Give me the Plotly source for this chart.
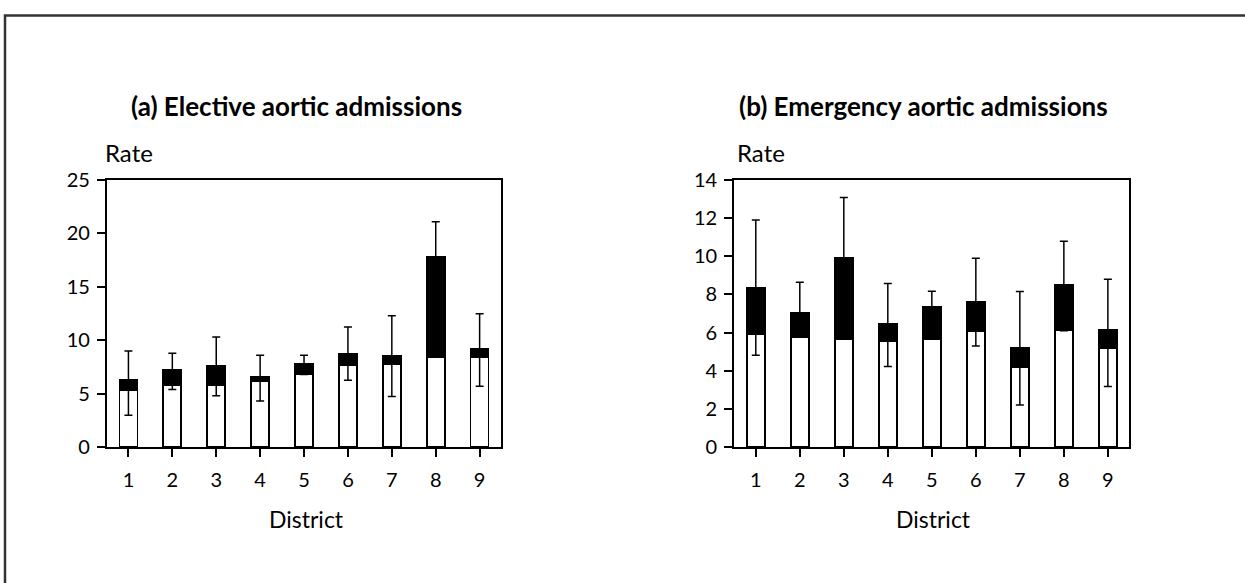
import plotly.graph_objects as go

W, H = 1245, 583

districts = [1, 2, 3, 4, 5, 6, 7, 8, 9]
district_labels = ["1", "2", "3", "4", "5", "6", "7", "8", "9"]

# (a) Elective aortic admissions
elective_lower_part = [5.34, 5.81, 5.81, 6.15, 6.86, 7.64, 7.76, 8.42, 8.45]
elective_total = [6.27, 7.20, 7.64, 6.58, 7.80, 8.70, 8.54, 17.76, 9.19]
elective_ci_low = [2.98, 5.40, 4.81, 4.32, 6.80, 6.27, 4.75, 14.0, 5.71]
elective_ci_high = [9.00, 8.79, 10.31, 8.60, 8.60, 11.24, 12.30, 21.09, 12.48]

# (b) Emergency aortic admissions
emergency_lower_part = [5.90, 5.76, 5.65, 5.55, 5.65, 6.09, 4.21, 6.12, 5.18]
emergency_total = [8.35, 7.03, 9.91, 6.47, 7.34, 7.62, 5.20, 8.49, 6.12]
emergency_ci_low = [4.82, 6.20, 7.50, 4.23, 6.50, 5.30, 2.21, 6.10, 3.18]
emergency_ci_high = [11.90, 8.64, 13.08, 8.57, 8.17, 9.90, 8.16, 10.78, 8.80]

y_ticks_a = [0, 5, 10, 15, 20, 25]
y_ticks_b = [0, 2, 4, 6, 8, 10, 12, 14]

FONT = "Lato"
fig = go.Figure()


def px_x(v):
    return v / W


def px_y(v):
    # vertical placement in page pixels (compensated for the observed render offset)
    v = (v - 11.5) / 0.9624
    return 1 - v / H


def add_panel(lower, total, lo, hi, xa, ya):
    upper_seg = [t - l for t, l in zip(total, lower)]
    fig.add_trace(go.Bar(x=districts, y=lower, width=0.41,
                         marker=dict(color="white", line=dict(color="black", width=1.7)),
                         xaxis=xa, yaxis=ya, showlegend=False, hoverinfo="skip"))
    fig.add_trace(go.Bar(x=districts, y=upper_seg, width=0.41,
                         marker=dict(color="black", line=dict(color="black", width=1.7)),
                         xaxis=xa, yaxis=ya, showlegend=False, hoverinfo="skip"))
    fig.add_trace(go.Scatter(x=districts, y=total, mode="markers",
                             marker=dict(size=1, color="rgba(0,0,0,0)"),
                             error_y=dict(type="data", symmetric=False,
                                          array=[h - t for h, t in zip(hi, total)],
                                          arrayminus=[t - l for t, l in zip(total, lo)],
                                          color="black", thickness=1.5, width=4),
                             xaxis=xa, yaxis=ya, showlegend=False, hoverinfo="skip"))


add_panel(elective_lower_part, elective_total, elective_ci_low, elective_ci_high, "x", "y")
add_panel(emergency_lower_part, emergency_total, emergency_ci_low, emergency_ci_high, "x2", "y2")

ydom = [px_y(447.3), px_y(179)]
common_x = dict(range=[0.505, 9.48], tickvals=districts, ticktext=district_labels,
                ticks="outside", ticklen=8, tickwidth=1.5, tickcolor="black",
                showline=True, linecolor="black", linewidth=1.6, mirror=True,
                showgrid=False, zeroline=False, ticklabelstandoff=6,
                tickfont=dict(family=FONT, size=20, color="black"), fixedrange=True)
common_y = dict(ticks="outside", ticklen=8, tickwidth=1.5, tickcolor="black",
                showline=True, linecolor="black", linewidth=1.6, mirror=True,
                showgrid=False, zeroline=False, ticklabelstandoff=3,
                tickfont=dict(family=FONT, size=20, color="black"), fixedrange=True)

fig.update_layout(
    width=W, height=H,
    margin=dict(l=0, r=0, t=0, b=0),
    paper_bgcolor="white", plot_bgcolor="white",
    barmode="stack", bargap=0.5,
    xaxis=dict(domain=[px_x(106.7), px_x(500.7)], anchor="y", **common_x),
    yaxis=dict(domain=ydom, anchor="x", range=[0, 25], tickvals=y_ticks_a, **common_y),
    xaxis2=dict(domain=[px_x(734), px_x(1129)], anchor="y2", **common_x),
    yaxis2=dict(domain=ydom, anchor="x2", range=[0, 14], tickvals=y_ticks_b, **common_y),
)

ann = []
for xc, text in [(296, "(a) Elective aortic admissions"), (923, "(b) Emergency aortic admissions")]:
    ann.append(dict(x=px_x(xc), y=px_y(105), xref="paper", yref="paper", text="<b>" + text + "</b>",
                    showarrow=False, xanchor="center", yanchor="middle",
                    font=dict(family=FONT, size=26, color="black")))
for xl in [103, 735]:
    ann.append(dict(x=px_x(xl), y=px_y(152), xref="paper", yref="paper", text="Rate",
                    showarrow=False, xanchor="left", yanchor="middle",
                    font=dict(family=FONT, size=24, color="black")))
for xc in [306, 933]:
    ann.append(dict(x=px_x(xc), y=px_y(519), xref="paper", yref="paper", text="District",
                    showarrow=False, xanchor="center", yanchor="middle",
                    font=dict(family=FONT, size=23, color="black")))
fig.update_layout(annotations=ann)

fig.add_shape(type="rect", xref="paper", yref="paper",
              x0=px_x(5), x1=1.2, y0=-0.2, y1=px_y(14),
              line=dict(color="#333333", width=2.5), fillcolor="rgba(0,0,0,0)", layer="below")

post = (
    "document.documentElement.style.margin='0';"
    "document.documentElement.style.overflow='hidden';"
    "document.body.style.margin='0';"
    "document.body.style.overflow='hidden';"
    "var gd=document.getElementById('{plot_id}');"
    "gd.style.position='absolute';gd.style.top='0px';gd.style.left='0px';"
)
fig.write_html("out.html", config={"displayModeBar": False}, post_script=post)
